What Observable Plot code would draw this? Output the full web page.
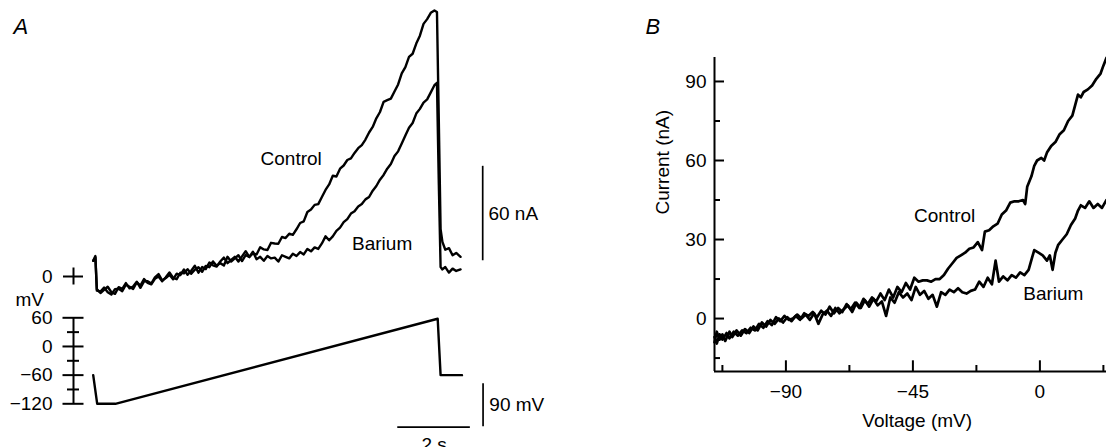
<!DOCTYPE html>
<html><head><meta charset="utf-8">
<script src="https://cdn.jsdelivr.net/npm/d3@7"></script>
<script src="https://cdn.jsdelivr.net/npm/@observablehq/plot@0.6"></script>
<style>
html,body{margin:0;padding:0;background:#fff;}
#chart{position:relative;width:1106px;height:447px;overflow:hidden;background:#fff;}
#chart svg{position:absolute;left:0;top:0;}
</style></head><body><div id="chart"></div>
<script>
// ---------- Panel A: current traces vs time (s) ----------
const timeA = [
  0, 0.06, 0.1, 0.2, 0.3, 0.4, 0.5, 0.6, 0.7, 0.8,
  0.9, 1.0, 1.1, 1.2, 1.3, 1.4, 1.5, 1.6, 1.7, 1.8,
  1.9, 2.0, 2.1, 2.2, 2.3, 2.4, 2.5, 2.6, 2.7, 2.8,
  2.9, 3.0, 3.1, 3.2, 3.3, 3.4, 3.5, 3.6, 3.7, 3.8,
  3.9, 4.0, 4.1, 4.2, 4.3, 4.4, 4.5, 4.6, 4.7, 4.8,
  4.9, 5.0, 5.1, 5.2, 5.3, 5.4, 5.5, 5.6, 5.7, 5.8,
  5.9, 6.0, 6.1, 6.2, 6.3, 6.4, 6.5, 6.6, 6.7, 6.8,
  6.9, 7.0, 7.1, 7.2, 7.3, 7.4, 7.5, 7.6, 7.7, 7.8,
  7.9, 8.0, 8.1, 8.2, 8.3, 8.4, 8.5, 8.6, 8.7, 8.8,
  8.9, 9.0, 9.1, 9.2, 9.3, 9.4, 9.47, 9.52, 9.57, 9.62,
  9.7, 9.8, 9.9, 10.0, 10.12
];
const controlCurrentA = [
  10, 13, -8, -10.5, -8.5, -6.5, -10, -11, -6.8, -7.8,
  -4.2, -7.5, -6.4, -3.3, -7.2, -3.1, -3, -4.5, -0.5, 1.5,
  -2.5, -1, 1.1, -1.8, 1.8, 0.9, 4.5, 1.1, 3.7, 6.8,
  2.4, 6, 4.7, 8.9, 7.1, 6.3, 9.5, 12, 8.5, 10.5,
  12.5, 9.5, 12.8, 16.1, 12.4, 14.7, 14, 18.6, 17.2, 16.8,
  21.4, 21, 20.8, 25.1, 24.4, 27.2, 26.5, 30, 34, 35,
  41, 42.5, 45.5, 46, 50.5, 55, 58.5, 64, 63.5, 68.5,
  70.5, 74, 75, 78.5, 81.5, 83.5, 87, 91.5, 95, 100.5,
  104.5, 111, 112, 113, 117.5, 122, 129, 133, 139.5, 141.5,
  148, 153, 160.5, 163.5, 167.5, 169, 168, 100, 30, 22,
  17, 18, 13.5, 15, 12.5
];
const bariumCurrentA = [
  10, 12, -9, -9.5, -7, -10, -11.5, -8, -7.8, -9.3,
  -5.2, -6.5, -7.9, -3.8, -5.7, -1.6, -4, -5, -1.5, 0,
  -3, -0.5, 2.6, -0.8, -1.7, 2.4, 2, 4.6, 1.7, 4.3,
  5.9, 3, 6.7, 5.9, 9.6, 6.8, 8.5, 7, 12.5, 9.5,
  11.5, 13.5, 9.8, 13.6, 12.4, 15.7, 11, 12.5, 10, 13,
  11.5, 12, 9.5, 13.5, 12.5, 11.5, 14.5, 13, 15.5, 14,
  17.5, 16, 18.5, 17.5, 21, 25.5, 23, 25.5, 29, 31,
  34.5, 36.5, 40, 41.5, 44.5, 46, 49, 50.5, 54.5, 57.5,
  61.5, 64.5, 68.5, 71.5, 76.5, 79.5, 84.5, 89.5, 94.5, 97.5,
  103.5, 106.5, 110.5, 112.5, 117, 121.5, 123, 60, 6, 4.5,
  6, 2.5, 5, 3.5, 4.5
];
// command voltage (mV) vs time (s)
const voltageTime = [0, 0.11, 0.61, 9.49, 9.57, 10.16];
const voltageA = [-60, -120, -120, 58, -60, -60];

// ---------- Panel B: I-V relation (mV, nA) ----------
const controlIV = [[-115.3,-9],[-114.5,-5],[-113.5,-8],[-112.5,-6],[-111.5,-8.5],[-110,-5],[-109,-7],[-107.5,-4.5],[-106,-6.5],[-104.5,-4],[-103,-5.5],[-101.5,-3],[-100,-4.5],[-98.5,-1.5],[-97,-3],[-95.5,-0.5],[-94,-2],[-92.5,0],[-91,-1.5],[-89.5,0.5],[-88,-1],[-86.5,1],[-85,-0.5],[-83.5,2],[-82,1],[-80.5,2.5],[-79,0.5],[-77.5,3],[-76,1.5],[-74.5,4.5],[-73,2],[-71.5,4],[-70,2.5],[-68.5,5.5],[-67,3.5],[-65.5,6],[-64,4],[-62.5,7.5],[-61,5.5],[-59.5,8],[-58,6.5],[-56.5,9.5],[-55,7],[-53.5,11],[-52,8],[-50.5,12],[-49,10],[-47.5,13.5],[-46,11],[-44.5,15.5],[-43,14],[-41.5,14.5],[-40,14.5],[-38.5,14],[-37,15],[-35.5,15],[-34,16.5],[-32.5,19],[-31,21],[-29.5,23],[-28,24],[-26.5,25],[-25,26.5],[-23.5,27],[-22,29],[-20.5,26],[-19.5,33],[-18,33.5],[-16.5,35],[-15,36],[-13.5,39.5],[-12,41],[-10.5,44],[-9,44.5],[-7.5,44.5],[-6,45],[-5.2,43.5],[-4.5,50],[-3,54],[-2,58],[-1,60],[0.5,61],[1.5,60],[2.5,63],[4,65.5],[5.5,67],[7,70],[8.5,71.5],[10,75],[11.5,77],[12.5,81],[13.5,85],[14.5,84],[15.5,86],[17,87],[18.5,88.5],[20,91],[21.5,93],[22.5,96],[23.6,99]];
const bariumIV = [[-115.3,-7],[-114.5,-9.5],[-113.5,-6],[-112.5,-8],[-111,-5.5],[-110,-7.5],[-108.5,-5],[-107,-6.5],[-105.5,-4.5],[-104,-5.5],[-102.5,-3.5],[-101,-4.5],[-99.5,-2],[-98,-3.5],[-96.5,-1],[-95,-2.5],[-93.5,0.5],[-92,-1],[-90.5,1],[-89,-0.5],[-87.5,0],[-86,1.5],[-84.5,0],[-83,1.5],[-81.5,-0.5],[-80,2],[-78.5,-2],[-77,1.5],[-75.5,3],[-74,1],[-72.5,4],[-71,2],[-69.5,3.5],[-68,5],[-66.5,2.5],[-65,6],[-63.5,4],[-62,7],[-60.5,4.5],[-59,7.5],[-57.5,5],[-56,6.5],[-54.5,1],[-53,8],[-51.5,6],[-50,10],[-48.5,8],[-47,9.5],[-45.5,7],[-44,12],[-42.5,9],[-41,10.5],[-39.5,7.5],[-38,9],[-36.5,4.5],[-35,10],[-33.5,9],[-32,11],[-30.5,10],[-29,11.5],[-27.5,10],[-26,9.5],[-24.5,10.5],[-23,11],[-21.5,14],[-20,12],[-18.5,15.5],[-17,13],[-15.7,22],[-14.5,14],[-13,16],[-11.5,14.5],[-10,16.5],[-8.5,15.5],[-7,17.5],[-5.5,16.5],[-4,18.5],[-2.8,23],[-2,26],[-0.5,25],[1,24],[2.5,22],[3.5,24],[4.5,18.5],[5.5,25],[6.5,28],[8,30],[9.5,32],[11,35.5],[12.5,38],[13.5,41],[14.5,43],[16,42],[17.5,44.5],[19,42],[20.5,43.5],[22,42],[23.6,45]];

const seriesNames = ["Control", "Barium"];
const labelPosA = [[4.61, 75], [7.13, 20.4]];     // (s, nA)
const labelPosB = [[-44.6, 39.1], [-5.9, 9.4]];    // (mV, nA)

// axes: domains and ticks
const timeDomainA = [-0.543, 10];            // left end = where the A axes sit
const currentMarkerSpan = [-5.4, 5.4];       // nA, extent of the "0 +" marker
const voltTicksA = [60, 0, -60, -120];
const voltMinorA = [30, -30, -90];
const currentZeroTick = [0];
const ivVoltDomain = [-115.3, 23.6];
const ivCurrDomain = [-20.1, 99.1];
const ivCurrTicks = [0, 30, 60, 90];
const ivCurrMinor = [-15, 15, 45, 75];
const ivVoltTicks = [-90, -45, 0];
const ivVoltMinor = [-112.5, -67.5, -22.5, 22.5];

// scale bars (data units)
const currentBar = [{t: 10.73, from: 10, to: 70, text: "60 nA"}];
const voltageBar = [{t: 10.74, from: -78, to: -168, text: "90 mV"}];
const timeBar = [{v: -169, from: 8.39, to: 10.39, text: "2 s"}];

// ---------- build ----------
const W = 1106, H = 447;
const style = "background:transparent;font-family:'Liberation Sans',Arial,Helvetica,sans-serif;font-size:19px;color:#000;overflow:visible;";
const fmt = d3.format("d");
const tScale = {domain: timeDomainA, range: [73, 455.7], axis: null};

const rowsA = [];
timeA.forEach((t, i) => rowsA.push({series: "Control", t, I: controlCurrentA[i]}));
timeA.forEach((t, i) => rowsA.push({series: "Barium", t, I: bariumCurrentA[i]}));
const labelsA = seriesNames.map((s, i) => ({s, t: labelPosA[i][0], I: labelPosA[i][1]}));
const voltRows = voltageTime.map((t, i) => ({t, V: voltageA[i]}));

const plotCurrent = Plot.plot({
  width: W, height: H,
  marginLeft: 73, marginRight: W - 73, marginTop: 0, marginBottom: 0,
  style,
  x: tScale,
  y: {domain: currentMarkerSpan, range: [284.5, 267.5]},
  marks: [
    Plot.axisY({anchor: "left", ticks: currentZeroTick, tickSize: 20, dx: 10, tickPadding: 11, tickFormat: fmt, label: null, strokeWidth: 2}),
    Plot.ruleX([timeDomainA[0]], {y1: currentMarkerSpan[0], y2: currentMarkerSpan[1], strokeWidth: 2}),
    Plot.line(rowsA, {x: "t", y: "I", z: "series", stroke: "#000", strokeWidth: 2.4, strokeLinejoin: "round"}),
    Plot.text(labelsA, {x: "t", y: "I", text: "s", textAnchor: "start", fill: "#000"}),
    Plot.ruleX(currentBar, {x: "t", y1: "from", y2: "to", strokeWidth: 1.7}),
    Plot.text(currentBar, {x: "t", y: d => (d.from + d.to) / 2, text: "text", textAnchor: "start", dx: 5.7}),
    Plot.text(["A"], {text: d => d, frameAnchor: "top-left", lineAnchor: "middle", dx: -60, dy: 26.6, textAnchor: "start", fontSize: 22, fontStyle: "italic"})
  ]
});

const plotVoltage = Plot.plot({
  width: W, height: H,
  marginLeft: 73, marginRight: W - 73, marginTop: 317, marginBottom: 44,
  style,
  x: tScale,
  y: {domain: [-120, 60], range: [403.3, 317.3]},
  marks: [
    Plot.axisY({anchor: "left", ticks: voltTicksA, tickSize: 21, dx: 10.5, tickPadding: 10.5, tickFormat: fmt, label: null, strokeWidth: 2}),
    Plot.axisY({anchor: "left", ticks: voltMinorA, tickSize: 12, dx: 6, fill: "none", label: null, strokeWidth: 2}),
    Plot.ruleX([timeDomainA[0]], {y1: d3.min(voltTicksA), y2: d3.max(voltTicksA), strokeWidth: 2}),
    Plot.text(["mV"], {text: d => d, frameAnchor: "top-left", lineAnchor: "middle", dx: -58, dy: -18, textAnchor: "start"}),
    Plot.line(voltRows, {x: "t", y: "V", stroke: "#000", strokeWidth: 2.4}),
    Plot.ruleX(voltageBar, {x: "t", y1: "from", y2: "to", strokeWidth: 1.7}),
    Plot.text(voltageBar, {x: "t", y: d => (d.from + d.to) / 2, text: "text", textAnchor: "start", dx: 6.3}),
    Plot.ruleY(timeBar, {y: "v", x1: "from", x2: "to", strokeWidth: 1.7}),
    Plot.text(timeBar, {y: "v", x: d => (d.from + d.to) / 2, text: "text", lineAnchor: "top", dy: 10.5})
  ]
});

const rowsB = [
  ...controlIV.map(([V, I]) => ({series: "Control", V, I})),
  ...bariumIV.map(([V, I]) => ({series: "Barium", V, I}))
];
const labelsB = seriesNames.map((s, i) => ({s, V: labelPosB[i][0], I: labelPosB[i][1]}));

const plotIV = Plot.plot({
  width: W, height: H,
  marginLeft: 714, marginRight: 0, marginTop: 57, marginBottom: 76,
  style,
  x: {domain: ivVoltDomain, range: [714, 1106]},
  y: {domain: ivCurrDomain, range: [371, 57]},
  marks: [
    Plot.ruleX([ivVoltDomain[0]], {strokeWidth: 2}),
    Plot.ruleY([ivCurrDomain[0]], {strokeWidth: 2}),
    Plot.axisY({ticks: ivCurrTicks, tickSize: -10, tickPadding: 18, tickFormat: fmt, label: null, strokeWidth: 2}),
    Plot.axisY({ticks: ivCurrMinor, tickSize: -6, fill: "none", label: null, strokeWidth: 2}),
    Plot.axisX({ticks: ivVoltTicks, tickSize: -10.7, tickPadding: 23.2, tickFormat: fmt, label: null, strokeWidth: 2}),
    Plot.axisX({ticks: ivVoltMinor, tickSize: -6, fill: "none", label: null, strokeWidth: 2}),
    Plot.text(["Current (nA)"], {text: d => d, frameAnchor: "left", lineAnchor: "middle", rotate: -90, dx: -52}),
    Plot.text(["Voltage (mV)"], {text: d => d, frameAnchor: "bottom", lineAnchor: "middle", dx: 6.7, dy: 49.6}),
    Plot.line(rowsB, {x: "V", y: "I", z: "series", stroke: "#000", strokeWidth: 2.7, strokeLinejoin: "round"}),
    Plot.text(labelsB, {x: "V", y: "I", text: "s", textAnchor: "start"}),
    Plot.text(["B"], {text: d => d, frameAnchor: "top-left", lineAnchor: "middle", dx: -69, dy: -30.4, textAnchor: "start", fontSize: 22, fontStyle: "italic"})
  ]
});

const chart = document.getElementById("chart");
chart.appendChild(plotVoltage);
chart.appendChild(plotCurrent);
chart.appendChild(plotIV);
</script></body></html>
